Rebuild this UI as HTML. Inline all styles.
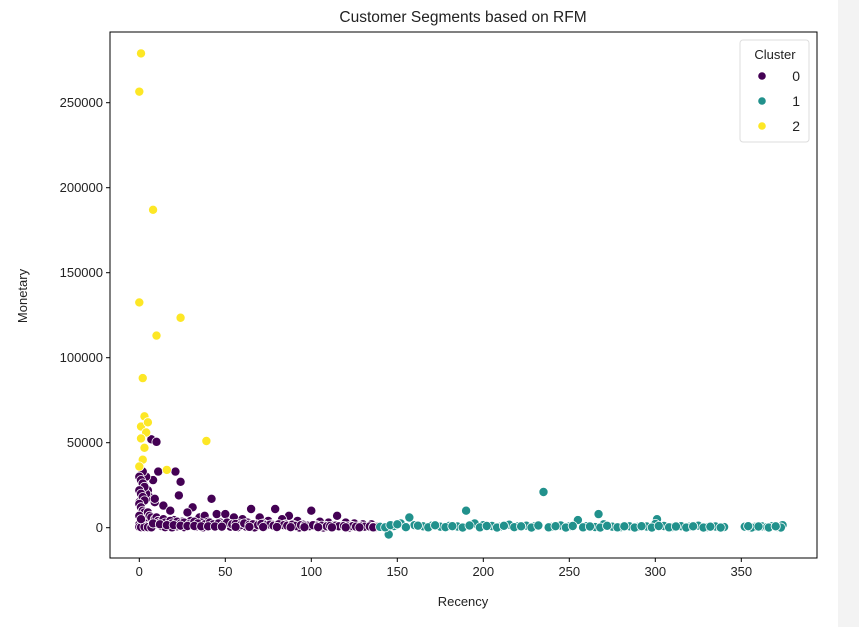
<!DOCTYPE html>
<html><head><meta charset="utf-8"><style>
body{margin:0;background:#fff;width:859px;height:627px;overflow:hidden;font-family:"Liberation Sans","DejaVu Sans",sans-serif}
</style></head><body>
<div style="position:absolute;left:838px;top:0;width:21px;height:627px;background:#f3f3f3"></div>
<svg id="chart" width="859" height="627" style="position:absolute;left:0;top:0"></svg>
<script>
const xTicks=[0,50,100,150,200,250,300,350];
const yTicks=[0,50000,100000,150000,200000,250000];
const c0x=[7,10,11,21,24,23,42,8,4,2,65,79,100,87,115,45,50,31,3,5,1,6,9,14,18,28,35,38,55,60,70,75,83,92,105,110,120,125,130,135,0,1,2,3,4,5,12,16,20,25,30,36,40,47,52,58,63,68,72,77,85,90,95,98,103,108,113,118,123,128,133,138,0,2,4,6,8,13,17,22,27,33,44,53,62,73,88,97,112,127,0,1,3,5,7,15,19,26,37,48,57,67,80,93,107,122,137,2,4,9,
0,1,2,3,0,1,2,3,0,1,2,3,0,1,5,6,7,9,10,11,12,14,15,18,19,22,24,26,29,32,34,38,41,43,46,49,51,54,56,59,61,64,66,69,71,74,76,78,81,84,86,89,91,94,96,99,101,104,106,109,111,114,116,119,121,124,126,129,131,134,136,139,8,12,16,20,24,28,32,36,40,44,48,56,64,72,80,88,96,104,112,120,128,136];
const c0y=[52000,50500,33000,33000,27000,19000,17000,28000,30000,33000,11000,11000,10000,7000,7000,8000,8000,12000,25000,22000,20000,18000,15000,13000,10000,9000,6000,7000,6000,5000,6000,4000,5000,4000,3500,3000,3000,2500,2000,2000,15000,12000,10000,8000,6000,5000,5000,4000,4500,3500,4000,3000,3500,3000,2500,2500,3000,2000,2500,2000,2000,1500,2000,1500,1500,1200,1500,1000,1200,1000,800,800,2000,1500,1000,800,1200,900,1200,800,1000,700,900,600,700,600,500,400,400,300,500,300,400,300,200,300,200,300,200,150,200,150,100,100,100,100,60,25000,20000,17000,
30000,28000,26000,24000,22000,20000,18000,16000,14000,12000,10000,9000,7000,5000,9000,7000,6000,5000,6000,4000,3000,5000,3000,4000,2500,3500,2500,3000,2000,3500,2500,2000,3000,2000,2500,1800,3000,2000,2200,1500,2500,1800,2000,1500,2200,1500,1800,1200,2000,1500,1200,1800,1000,1500,1200,900,1500,1000,1200,800,1000,1200,800,1000,700,900,600,800,600,700,500,600,2500,2000,1500,1500,1200,1000,1000,800,800,700,600,500,500,400,400,300,300,300,200,200,200,200];
const c1x=[235,190,267,301,145,157,255,140,148,152,160,165,170,175,180,185,195,200,205,210,215,220,225,230,240,245,250,260,265,270,275,280,285,290,295,300,305,310,315,320,325,330,335,340,352,355,358,362,365,368,371,374,143,155,168,178,188,198,208,218,228,238,248,258,268,278,288,298,308,318,328,338,356,366,373,
146,150,162,172,182,192,202,212,222,232,242,252,262,272,282,292,302,312,322,332,354,360,370];
const c1y=[21000,10000,8000,5000,-4000,6000,4500,500,1000,2500,1500,800,1200,600,1000,700,2500,1500,1000,600,1800,800,1200,900,500,1300,700,900,400,2000,600,300,800,500,700,2200,1000,400,900,600,1200,300,700,400,600,200,500,800,300,900,400,1500,200,300,200,300,100,200,100,300,100,200,100,200,100,200,100,100,200,100,100,100,100,100,100,
1500,2000,1200,1400,900,1300,1000,1100,800,1300,900,1000,700,1100,800,900,1000,700,800,600,900,700,800];
const c2x=[1,0,8,0,24,10,2,3,1,4,1,39,2,16,0,5,3];
const c2y=[279000,256500,187000,132500,123500,113000,88000,65500,59500,56000,52500,51000,40000,34000,36000,62000,47000];

const NS='http://www.w3.org/2000/svg';
const svg=document.getElementById('chart');
const L=110,R=817,T=32,B=558;
const sx=v=>139.3+v*1.72;
const sy=v=>527.7-v*85/50000;
function el(t,a,p){const e=document.createElementNS(NS,t);for(const k in a)e.setAttribute(k,a[k]);(p||svg).appendChild(e);return e;}
function tx(x,y,s,anchor,size){const e=el('text',{x:x,y:y,'text-anchor':anchor,'font-size':size||13,fill:'#222'});e.textContent=s;return e;}

const t=tx(463,22,'Customer Segments based on RFM','middle',15.5);



const pts=el('g',{});


function draw(xs,ys,col,name){
  for(let i=0;i<xs.length;i++){
    const c=el('circle',{cx:sx(xs[i]),cy:sy(ys[i]),r:4.6,fill:col,stroke:'#fff','stroke-width':0.8},pts);
    
    
  }
}
draw(c0x,c0y,'#440154','point-cluster-0');
draw(c1x,c1y,'#21918c','point-cluster-1');
draw(c2x,c2y,'#fde725','point-cluster-2');

const fr=el('rect',{x:L,y:T,width:R-L,height:B-T,fill:'none',stroke:'#000','stroke-width':1});



xTicks.forEach(v=>{
  const x=sx(v);
  el('line',{x1:x,x2:x,y1:B,y2:B+4,stroke:'#000'});
  const l=tx(x,B+18,String(v),'middle');
  
  
});
yTicks.forEach(v=>{
  const y=sy(v);
  el('line',{x1:L-4,x2:L,y1:y,y2:y,stroke:'#000'});
  const l=tx(L-7,y+4.5,String(v),'end');
  
  
});
const xl=tx(463,606,'Recency','middle');


const yl=tx(0,0,'Monetary','middle');
yl.setAttribute('transform','translate(27,296) rotate(-90)');



const lg=el('g',{});


el('rect',{x:740,y:40,width:69,height:102,rx:3,fill:'#fff',stroke:'#ddd'},lg);
tx(775,59,'Cluster','middle',13);
const lc=['#440154','#21918c','#fde725'];
['0','1','2'].forEach((s,i)=>{
  const y=76+i*25;
  const d=el('circle',{cx:762,cy:y,r:3.8,fill:lc[i]},lg);
  
  
  const l=el('text',{x:800,y:y+5,'text-anchor':'end','font-size':14,fill:'#222'},lg);
  l.textContent=s;
  
  
});
</script>
</body></html>
